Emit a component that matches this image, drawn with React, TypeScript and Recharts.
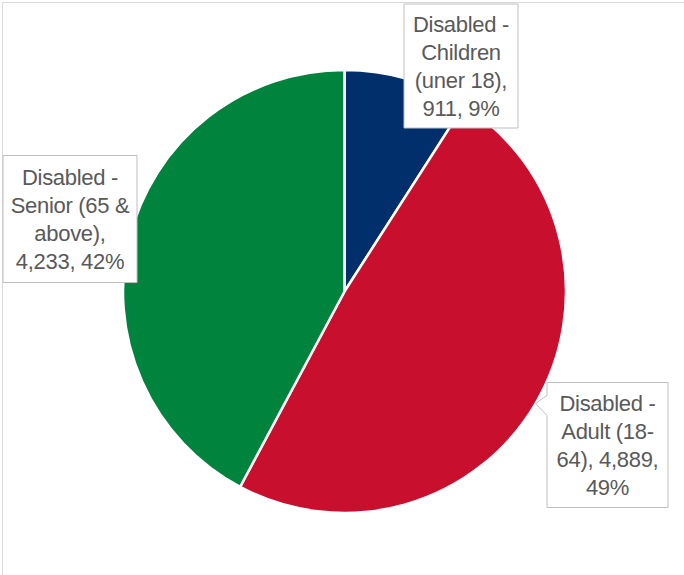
import { Cell, Pie, PieChart } from "recharts";

const categories = [
  "Disabled - Children (uner 18)",
  "Disabled - Adult (18-64)",
  "Disabled - Senior (65 & above)",
];
const counts = [911, 4889, 4233];
const colors = ["#002F6C", "#C8102E", "#00843D"];

// label box placement relative to the pie centre
const labelLayout = [
  { dx: 116.5, dy: -225.5, w: 114, h: 124, callout: false },
  { dx: 263, dy: 153.5, w: 121, h: 125, callout: true },
  { dx: -274.5, dy: -72.5, w: 134, h: 127, callout: false },
];

const data = categories.map((name, i) => ({ name, value: counts[i] }));

const FONT = '22px "Liberation Sans", Arial, sans-serif';
let ctx: CanvasRenderingContext2D | null = null;
const measure = (s: string) => {
  if (!ctx) {
    ctx = document.createElement("canvas").getContext("2d");
    if (ctx) ctx.font = FONT;
  }
  return ctx ? ctx.measureText(s).width : s.length * 10;
};

const wrap = (text: string, maxW: number) => {
  const tokens = text.match(/[^\s-]+-?\s*|-\s*/g) || [text];
  const lines: string[] = [];
  let line = "";
  tokens.forEach((t) => {
    const next = line + t;
    if (line && measure(next.trimEnd()) > maxW) {
      lines.push(line.trimEnd());
      line = t;
    } else {
      line = next;
    }
  });
  if (line) lines.push(line.trimEnd());
  return lines;
};

const renderLabel = (props: any) => {
  const { cx, cy, midAngle, outerRadius, index, name, value, percent } = props;
  const lay = labelLayout[index];
  const bx = cx + lay.dx - lay.w / 2;
  const by = cy + lay.dy - lay.h / 2;
  const text = `${name}, ${value.toLocaleString("en-US")}, ${Math.round(percent * 100)}%`;
  const lines = wrap(text, lay.w - 8);
  const lh = 28;
  const rad = (-midAngle * Math.PI) / 180;
  const tipX = cx + outerRadius * Math.cos(rad);
  const tipY = cy + outerRadius * Math.sin(rad);
  const d = lay.callout
    ? `M${bx},${by} H${bx + lay.w} V${by + lay.h} H${bx} V${by + 33} L${tipX},${tipY} L${bx},${by + 13} Z`
    : `M${bx},${by} H${bx + lay.w} V${by + lay.h} H${bx} Z`;
  return (
    <g>
      <path d={d} fill="#FFFFFF" stroke="#BFBFBF" strokeWidth={1} />
      {lines.map((l, i) => (
        <text
          key={i}
          x={cx + lay.dx}
          y={cy + lay.dy + (i - (lines.length - 1) / 2) * lh}
          textAnchor="middle"
          dominantBaseline="central"
          fill="#595959"
          style={{ font: FONT, letterSpacing: -0.3 }}
        >
          {l}
        </text>
      ))}
    </g>
  );
};

export default function App() {
  return (
    <div
      style={{
        position: "absolute",
        left: 0,
        top: 0,
        width: 684,
        height: 575,
        overflow: "hidden",
        background: "#FFFFFF",
      }}
    >
      <div
        style={{
          position: "absolute",
          left: 2,
          top: 2,
          width: 720,
          height: 620,
          borderLeft: "1.5px solid #D9D9D9",
          borderTop: "1.5px solid #D9D9D9",
        }}
      />
      <PieChart
        width={684}
        height={575}
        margin={{ top: 0, right: 0, bottom: 0, left: 0 }}
        style={{ position: "absolute", left: 0, top: 0 }}
      >
        <Pie
          data={data}
          dataKey="value"
          nameKey="name"
          cx={344.5}
          cy={291.5}
          outerRadius={221.5}
          startAngle={90}
          endAngle={-270}
          stroke="#FFFFFF"
          strokeWidth={2.5}
          label={renderLabel}
          labelLine={false}
          isAnimationActive={false}
        >
          {data.map((_, i) => (
            <Cell key={i} fill={colors[i]} />
          ))}
        </Pie>
      </PieChart>
    </div>
  );
}
